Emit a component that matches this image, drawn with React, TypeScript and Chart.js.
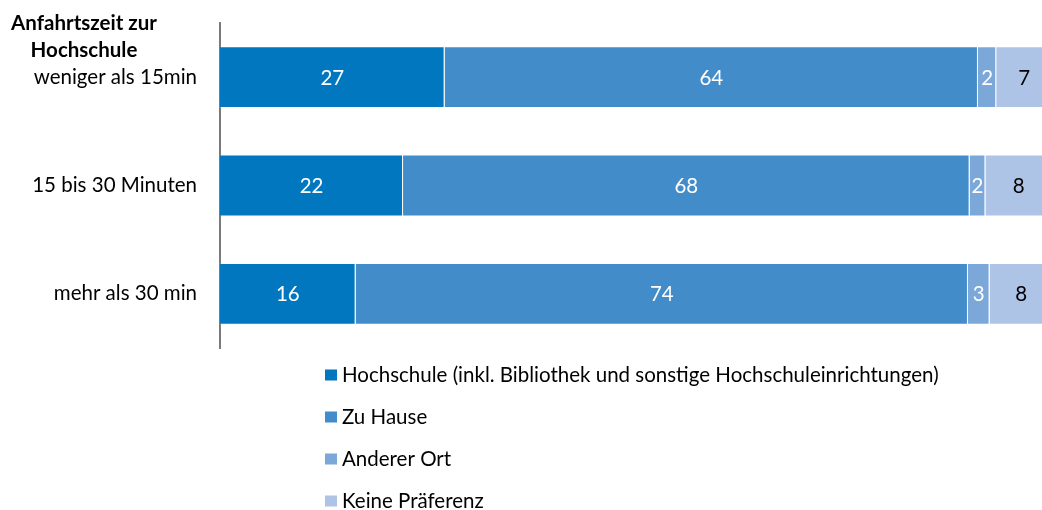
import React, { useEffect, useRef } from "react";
import { Chart, registerables } from "chart.js";

Chart.register(...registerables);

const categories = ["weniger als 15min", "15 bis 30 Minuten", "mehr als 30 min"];
const seriesNames = [
  "Hochschule (inkl. Bibliothek und sonstige Hochschuleinrichtungen)",
  "Zu Hause",
  "Anderer Ort",
  "Keine Präferenz",
];
const hochschule = [27.0, 22.0, 16.3];
const zuHause = [64.1, 68.1, 73.6];
const andererOrt = [2.2, 1.9, 2.6];
const keinePraeferenz = [6.7, 8.0, 7.6];
const seriesColors = ["#0077BE", "#438CCA", "#7CA7D9", "#ADC4E6"];
const labelColors = ["#ffffff", "#ffffff", "#ffffff", "#000000"];
const axisTitleLines = ["Anfahrtszeit zur", "Hochschule"];

const FONT = "Lato, 'Open Sans', sans-serif";
const FS = 20.5;

const valueLabelPlugin = {
  id: "valueLabels",
  afterDatasetsDraw(chart: any) {
    const ctx = chart.ctx;
    ctx.save();
    ctx.font = `${FS}px ${FONT}`;
    ctx.textAlign = "center";
    ctx.textBaseline = "middle";
    chart.data.datasets.forEach((ds: any, di: number) => {
      const meta = chart.getDatasetMeta(di);
      meta.data.forEach((el: any, i: number) => {
        const p = el.getCenterPoint();
        ctx.fillStyle = labelColors[di];
        ctx.fillText(String(Math.round(ds.data[i])), p.x, p.y + 1);
      });
    });
    ctx.restore();
  },
};

const titleLegendPlugin = {
  id: "titleLegend",
  afterDraw(chart: any) {
    const ctx = chart.ctx;
    const area = chart.chartArea;
    ctx.save();
    // axis title
    ctx.font = `bold ${FS}px ${FONT}`;
    ctx.fillStyle = "#000000";
    ctx.textAlign = "center";
    ctx.textBaseline = "alphabetic";
    axisTitleLines.forEach((t, i) => {
      ctx.fillText(t, 84, 30 + i * 26.5);
    });
    // legend
    ctx.font = `${FS}px ${FONT}`;
    ctx.textAlign = "left";
    const lx = area.left + 105;
    const base0 = area.bottom + 34;
    seriesNames.forEach((name, i) => {
      const b = base0 + i * 42;
      ctx.fillStyle = seriesColors[i];
      ctx.fillRect(lx, b - 12.5, 12, 11);
      ctx.fillStyle = "#000000";
      ctx.fillText(name, lx + 17, b);
    });
    ctx.restore();
  },
};

export default function App() {
  const ref = useRef<HTMLCanvasElement | null>(null);
  useEffect(() => {
    if (!ref.current) return;
    const seriesData = [hochschule, zuHause, andererOrt, keinePraeferenz];
    const chart = new Chart(ref.current, {
      type: "bar",
      data: {
        labels: categories,
        datasets: seriesData.map((d, i) => ({
          label: seriesNames[i],
          data: d,
          backgroundColor: seriesColors[i],
          borderColor: "rgba(255,255,255,0.18)",
          borderWidth: 1,
          categoryPercentage: 1,
          barPercentage: 0.571,
        })),
      },
      options: {
        indexAxis: "y",
        animation: false,
        responsive: false,
        devicePixelRatio: 1,
        layout: { padding: { top: 23, bottom: 162, left: 0, right: 0 } },
        plugins: {
          legend: { display: false },
          tooltip: { enabled: false },
          title: { display: false },
        },
        scales: {
          x: { stacked: true, display: false, min: 0, max: 98.8 },
          y: {
            stacked: true,
            grid: { display: false, drawTicks: false },
            border: { display: true, color: "#7a7a7a", width: 2 },
            ticks: {
              padding: 23,
              color: "#000000",
              font: { family: FONT, size: FS },
            },
            afterFit: (scale: any) => {
              scale.width = 220;
              scale.paddingTop = 0;
              scale.paddingBottom = 0;
            },
          },
        },
      },
      plugins: [valueLabelPlugin, titleLegendPlugin],
    } as any);
    return () => chart.destroy();
  }, []);
  return (
    <div style={{ position: "fixed", left: 0, top: 0, width: 1042, height: 510, background: "#fff" }}>
      <canvas ref={ref} width={1042} height={510} style={{ display: "block" }} />
    </div>
  );
}
